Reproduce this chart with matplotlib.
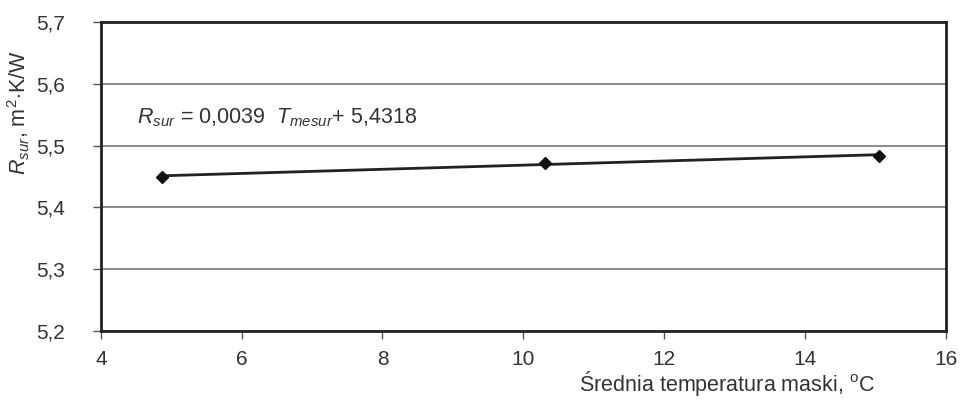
import matplotlib
matplotlib.use("Agg")
import matplotlib.pyplot as plt
import numpy as np
from matplotlib.ticker import FuncFormatter

plt.rcParams['font.family'] = ['Liberation Sans', 'DejaVu Sans']
plt.rcParams['mathtext.fontset'] = 'custom'
plt.rcParams['mathtext.rm'] = 'Liberation Sans'
plt.rcParams['mathtext.it'] = 'Liberation Sans:italic'

temps = [4.87, 10.31, 15.05]
rsur = [5.450, 5.472, 5.484]
x_ticks = [4, 6, 8, 10, 12, 14, 16]
y_ticks = [5.2, 5.3, 5.4, 5.5, 5.6, 5.7]
equation = r"$R_{sur}$ = 0,0039  $T_{mesur}$+ 5,4318"
xlabel = r"Średnia temperatura maski, $^{\mathrm{o}}$C"
ylabel = r"$R_{sur}$, m$^2$$\cdot$K/W"

fig = plt.figure(figsize=(9.61, 4.03), dpi=100)
ax = fig.add_axes([0.105, 0.179, 0.879, 0.766])

txt = '#333333'
# trend line fitted to data
coef = np.polyfit(temps, rsur, 1)
xs = np.array([temps[0], temps[-1]])
ax.plot(xs, np.polyval(coef, xs), color='#222222', lw=2, zorder=3)
ax.plot(temps, rsur, linestyle='none', marker='D', ms=6, color='#111111', zorder=4)

ax.set_xlim(4, 16)
ax.set_ylim(5.2, 5.7)
ax.set_xticks(x_ticks)
ax.set_yticks(y_ticks)
ax.yaxis.set_major_formatter(FuncFormatter(lambda v, p: f"{v:.1f}".replace('.', ',')))
ax.grid(axis='y', color='#777777', lw=1.2)
ax.set_axisbelow(True)
for s in ax.spines.values():
    s.set_linewidth(2)
    s.set_color('#222222')

ax.tick_params(axis='x', length=6, width=1, pad=8, labelsize=15, colors='#555555', labelcolor=txt)
ax.tick_params(axis='y', length=6, width=1, pad=20, labelsize=15, colors='#555555', labelcolor=txt)

ax.text(4.51, 5.546, equation, fontsize=15.5, color=txt, va='center', ha='left')
fig.text(0.91, 0.048, xlabel, fontsize=15.5, color=txt, ha='right', va='center')
fig.text(0.02, 0.72, ylabel, fontsize=15.5, color=txt, ha='center', va='center', rotation=90)

fig.savefig('out.png', dpi=100, facecolor='white')
